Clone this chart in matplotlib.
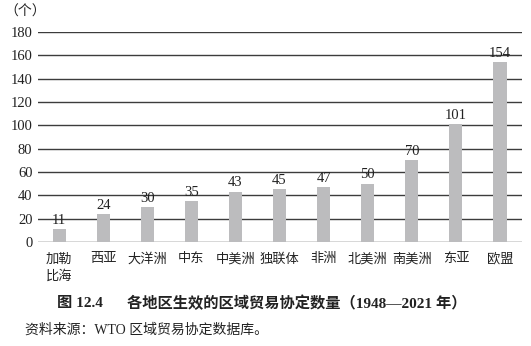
import matplotlib
matplotlib.use("Agg")
import matplotlib.pyplot as plt

plt.rcParams['font.family'] = ['Liberation Serif', 'Noto Sans CJK SC', 'DejaVu Sans']

# --- data ---
regions = ["加勒\n比海", "西亚", "大洋洲", "中东", "中美洲", "独联体", "非洲", "北美洲", "南美洲", "东亚", "欧盟"]
counts = [11, 24, 30, 35, 43, 45, 47, 50, 70, 101, 154]
yticks = [0, 20, 40, 60, 80, 100, 120, 140, 160, 180]

fig = plt.figure(figsize=(5.31, 3.46), dpi=100)
ax = fig.add_axes([0.0716, 0.3006, 0.9114, 0.6069])

ax.set_axisbelow(True)
ax.yaxis.grid(True, color="#3c3c3c", linewidth=1.0)
x = list(range(len(regions)))
ax.bar(x, counts, width=0.3, color="#bcbcbe", zorder=2)
for xi, v in zip(x, counts):
    ax.text(xi, v + 2, str(v), ha="center", va="bottom", fontsize=10.5, color="#222222")

ax.set_xlim(-0.48, 10.5)
ax.set_ylim(0, 180)
ax.set_yticks(yticks)
ax.tick_params(axis="y", length=0, pad=4, labelsize=10.5, labelcolor="#222222")
ax.tick_params(axis="x", length=0, pad=8, labelsize=9.5, labelcolor="#222222")
ax.set_xticks(x)
ax.set_xticklabels(regions, linespacing=1.5, va="top")
for s in ax.spines.values():
    s.set_visible(False)

fig.text(0.008, 0.965, "（个）", fontsize=10, color="#222222", va="center",
         family=['Noto Sans CJK SC', 'DejaVu Sans'])
fig.text(0.107, 0.123, "图 12.4", fontsize=11, fontweight="bold", color="#222222", va="center")
fig.text(0.239, 0.123, "各地区生效的区域贸易协定数量（1948—2021 年）", fontsize=11,
         fontweight="bold", color="#222222", va="center")
fig.text(0.047, 0.045, "资料来源：WTO 区域贸易协定数据库。", fontsize=10, color="#222222", va="center")

fig.savefig("out.png", dpi=100)
